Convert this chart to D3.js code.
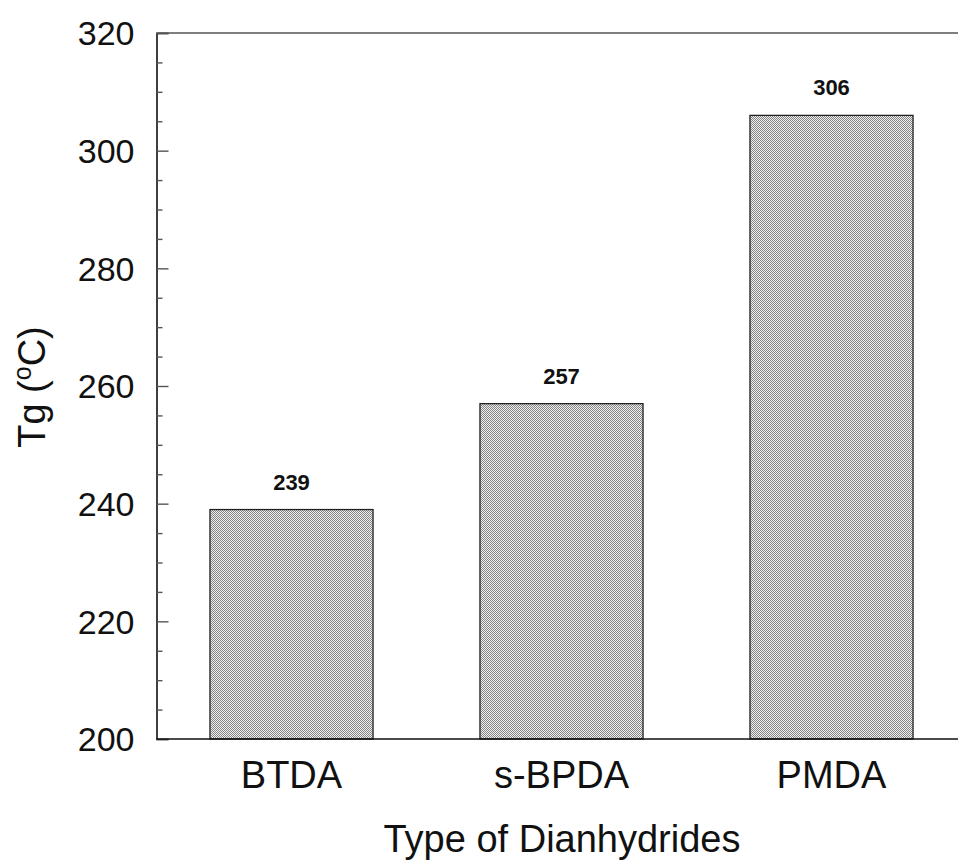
<!DOCTYPE html>
<html>
<head>
<meta charset="utf-8">
<script src="https://cdn.jsdelivr.net/npm/d3@7"></script>
<style>
  html, body { margin: 0; padding: 0; background: #fff; }
  svg { display: block; font-family: "Liberation Sans", Arial, sans-serif; }
</style>
</head>
<body>
<svg id="chart" width="958" height="863"></svg>
<script>
// Glass transition temperature by dianhydride type
const categories = ["BTDA", "s-BPDA", "PMDA"];
const tgValues = [239, 257, 306];
const yMajorTicks = [200, 220, 240, 260, 280, 300, 320];

const width = 958, height = 863;
const margin = { top: 33, left: 156.5, bottom: 739 };

const svg = d3.select("#chart");

// fine checkered fill for the bars
const defs = svg.append("defs");
const pat = defs.append("pattern")
  .attr("id", "checker")
  .attr("patternUnits", "userSpaceOnUse")
  .attr("width", 2).attr("height", 2);
pat.append("rect").attr("width", 2).attr("height", 2).attr("fill", "#eeeeee");
pat.append("rect").attr("x", 0).attr("y", 0).attr("width", 1).attr("height", 1).attr("fill", "#858585");
pat.append("rect").attr("x", 1).attr("y", 1).attr("width", 1).attr("height", 1).attr("fill", "#858585");

const y = d3.scaleLinear().domain([200, 320]).range([margin.bottom, margin.top]);
const x = d3.scaleBand()
  .domain(categories)
  .range([margin.left, margin.left + 3 * 270])
  .paddingInner(0.396)
  .paddingOuter(0.198);

// bars
svg.append("g").selectAll("rect")
  .data(categories)
  .join("rect")
  .attr("x", d => x(d))
  .attr("y", (d, i) => y(tgValues[i]))
  .attr("width", x.bandwidth())
  .attr("height", (d, i) => y(200) - y(tgValues[i]))
  .attr("fill", "url(#checker)")
  .attr("stroke", "#222")
  .attr("stroke-width", 1.3);

// value labels
svg.append("g").selectAll("text")
  .data(categories)
  .join("text")
  .attr("x", d => x(d) + x.bandwidth() / 2)
  .attr("y", (d, i) => y(tgValues[i]) - 20)
  .attr("text-anchor", "middle")
  .attr("font-size", 22)
  .attr("font-weight", "bold")
  .attr("fill", "#111")
  .text((d, i) => tgValues[i]);

// left axis with inward ticks
const yAxis = d3.axisRight(y)
  .tickValues(yMajorTicks)
  .tickSize(12)
  .tickFormat("");
const gy = svg.append("g")
  .attr("transform", `translate(${margin.left},0)`)
  .call(yAxis);
gy.select(".domain").attr("stroke", "#111").attr("stroke-width", 1.6);
gy.selectAll(".tick line").attr("stroke", "#555").attr("stroke-width", 1.4);

const yMinor = d3.axisRight(y)
  .tickValues(d3.range(200, 321, 5).filter(v => v % 20 !== 0))
  .tickSize(6)
  .tickFormat("");
const gym = svg.append("g")
  .attr("transform", `translate(${margin.left},0)`)
  .call(yMinor);
gym.select(".domain").remove();
gym.selectAll(".tick line").attr("stroke", "#555").attr("stroke-width", 1.4);

// y tick labels
svg.append("g").selectAll("text")
  .data(yMajorTicks)
  .join("text")
  .attr("x", margin.left - 22)
  .attr("y", d => y(d))
  .attr("dy", "0.36em")
  .attr("text-anchor", "end")
  .attr("font-size", 34)
  .attr("fill", "#111")
  .text(d => d);

// top and bottom frame lines
svg.append("line")
  .attr("x1", margin.left).attr("x2", width)
  .attr("y1", y(320)).attr("y2", y(320))
  .attr("stroke", "#555").attr("stroke-width", 1.6);
svg.append("line")
  .attr("x1", margin.left).attr("x2", width)
  .attr("y1", y(200)).attr("y2", y(200))
  .attr("stroke", "#111").attr("stroke-width", 1.6);

// category labels
svg.append("g").selectAll("text")
  .data(categories)
  .join("text")
  .attr("x", d => x(d) + x.bandwidth() / 2)
  .attr("y", 788)
  .attr("text-anchor", "middle")
  .attr("font-size", 38)
  .attr("fill", "#111")
  .text(d => d);

// axis titles
svg.append("text")
  .attr("x", 562)
  .attr("y", 852)
  .attr("text-anchor", "middle")
  .attr("font-size", 38)
  .attr("fill", "#111")
  .text("Type of Dianhydrides");

const yt = svg.append("text")
  .attr("transform", "translate(45,387) rotate(-90)")
  .attr("text-anchor", "middle")
  .attr("font-size", 38)
  .attr("fill", "#111");
yt.append("tspan").text("Tg (");
yt.append("tspan").attr("font-size", 25).attr("dy", -14).text("o");
yt.append("tspan").attr("dy", 14).text("C)");
</script>
</body>
</html>
